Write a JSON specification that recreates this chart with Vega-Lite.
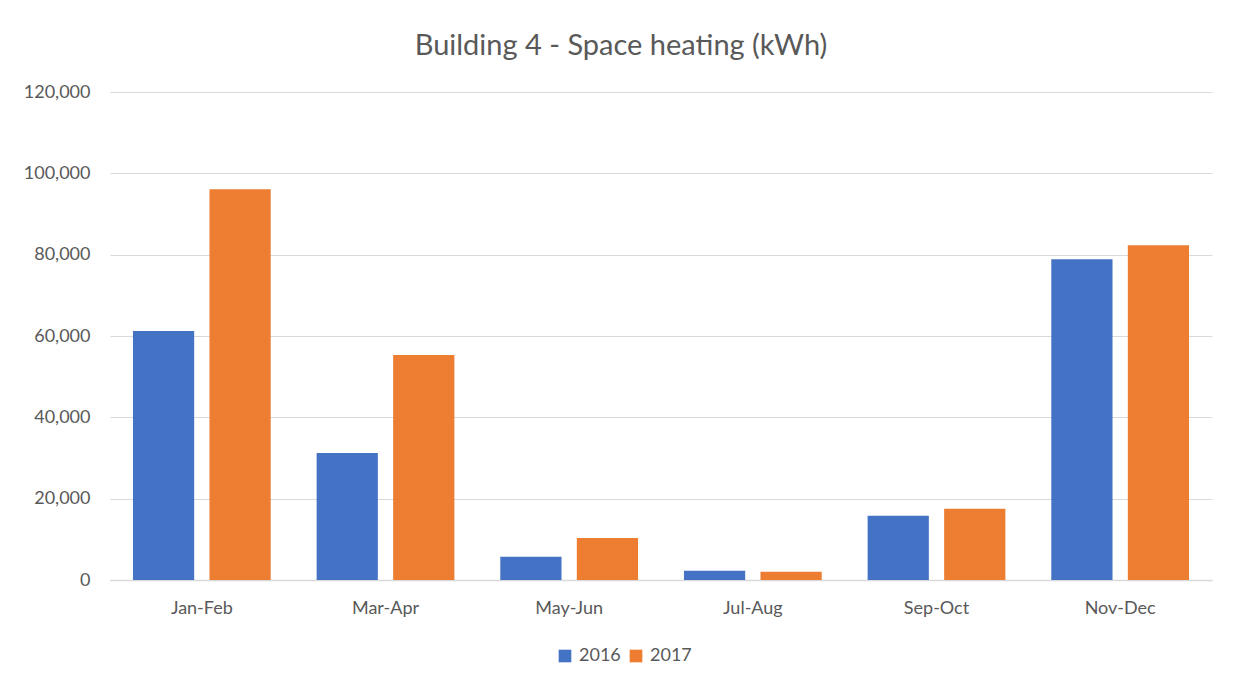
{
  "$schema": "https://vega.github.io/schema/vega-lite/v6.json",
  "autosize": {"type": "none"},
  "width": 1102,
  "height": 488,
  "padding": {"left": 110, "top": 92, "right": 23, "bottom": 106},
  "background": "white",
  "title": {
    "text": "Building 4 - Space heating (kWh)",
    "anchor": "middle",
    "dx": -40,
    "offset": 22,
    "fontSize": 29,
    "font": "Lato",
    "fontWeight": "normal",
    "color": "#595959"
  },
  "data": {
    "values": [
      {"period": "Jan-Feb", "year": "2016", "kwh": 61200},
      {"period": "Jan-Feb", "year": "2017", "kwh": 96100},
      {"period": "Mar-Apr", "year": "2016", "kwh": 31200},
      {"period": "Mar-Apr", "year": "2017", "kwh": 55300},
      {"period": "May-Jun", "year": "2016", "kwh": 5700},
      {"period": "May-Jun", "year": "2017", "kwh": 10300},
      {"period": "Jul-Aug", "year": "2016", "kwh": 2300},
      {"period": "Jul-Aug", "year": "2017", "kwh": 2000},
      {"period": "Sep-Oct", "year": "2016", "kwh": 15800},
      {"period": "Sep-Oct", "year": "2017", "kwh": 17500},
      {"period": "Nov-Dec", "year": "2016", "kwh": 78900},
      {"period": "Nov-Dec", "year": "2017", "kwh": 82300}
    ]
  },
  "mark": {"type": "bar"},
  "encoding": {
    "x": {
      "field": "period",
      "type": "nominal",
      "sort": null,
      "title": null,
      "scale": {"paddingInner": 0.25, "paddingOuter": 0.125},
      "axis": {
        "labelAngle": 0,
        "labelFont": "Lato",
        "labelFontSize": 18,
        "labelColor": "#595959",
        "labelPadding": 19,
        "ticks": false,
        "domainColor": "#d9d9d9",
        "domainWidth": 1.5,
        "grid": false
      }
    },
    "xOffset": {
      "field": "year",
      "type": "nominal",
      "scale": {"paddingInner": 0.2}
    },
    "y": {
      "field": "kwh",
      "type": "quantitative",
      "title": null,
      "scale": {"domain": [0, 120000], "nice": false},
      "axis": {
        "values": [0, 20000, 40000, 60000, 80000, 100000, 120000],
        "format": ",d",
        "labelFont": "Lato",
        "labelFontSize": 18,
        "labelColor": "#595959",
        "labelPadding": 20,
        "ticks": false,
        "domain": false,
        "gridColor": "#d9d9d9",
        "gridWidth": 1
      }
    },
    "color": {
      "field": "year",
      "type": "nominal",
      "scale": {"domain": ["2016", "2017"], "range": ["#4472C4", "#ED7D31"]},
      "legend": {
        "title": null,
        "orient": "none",
        "direction": "horizontal",
        "legendX": 446,
        "legendY": 555,
        "symbolType": "square",
        "symbolSize": 160,
        "symbolStrokeWidth": 0,
        "labelFont": "Lato",
        "labelFontSize": 18,
        "labelColor": "#595959",
        "columnPadding": 6,
        "labelOffset": 5
      }
    }
  },
  "config": {"view": {"stroke": null}}
}
